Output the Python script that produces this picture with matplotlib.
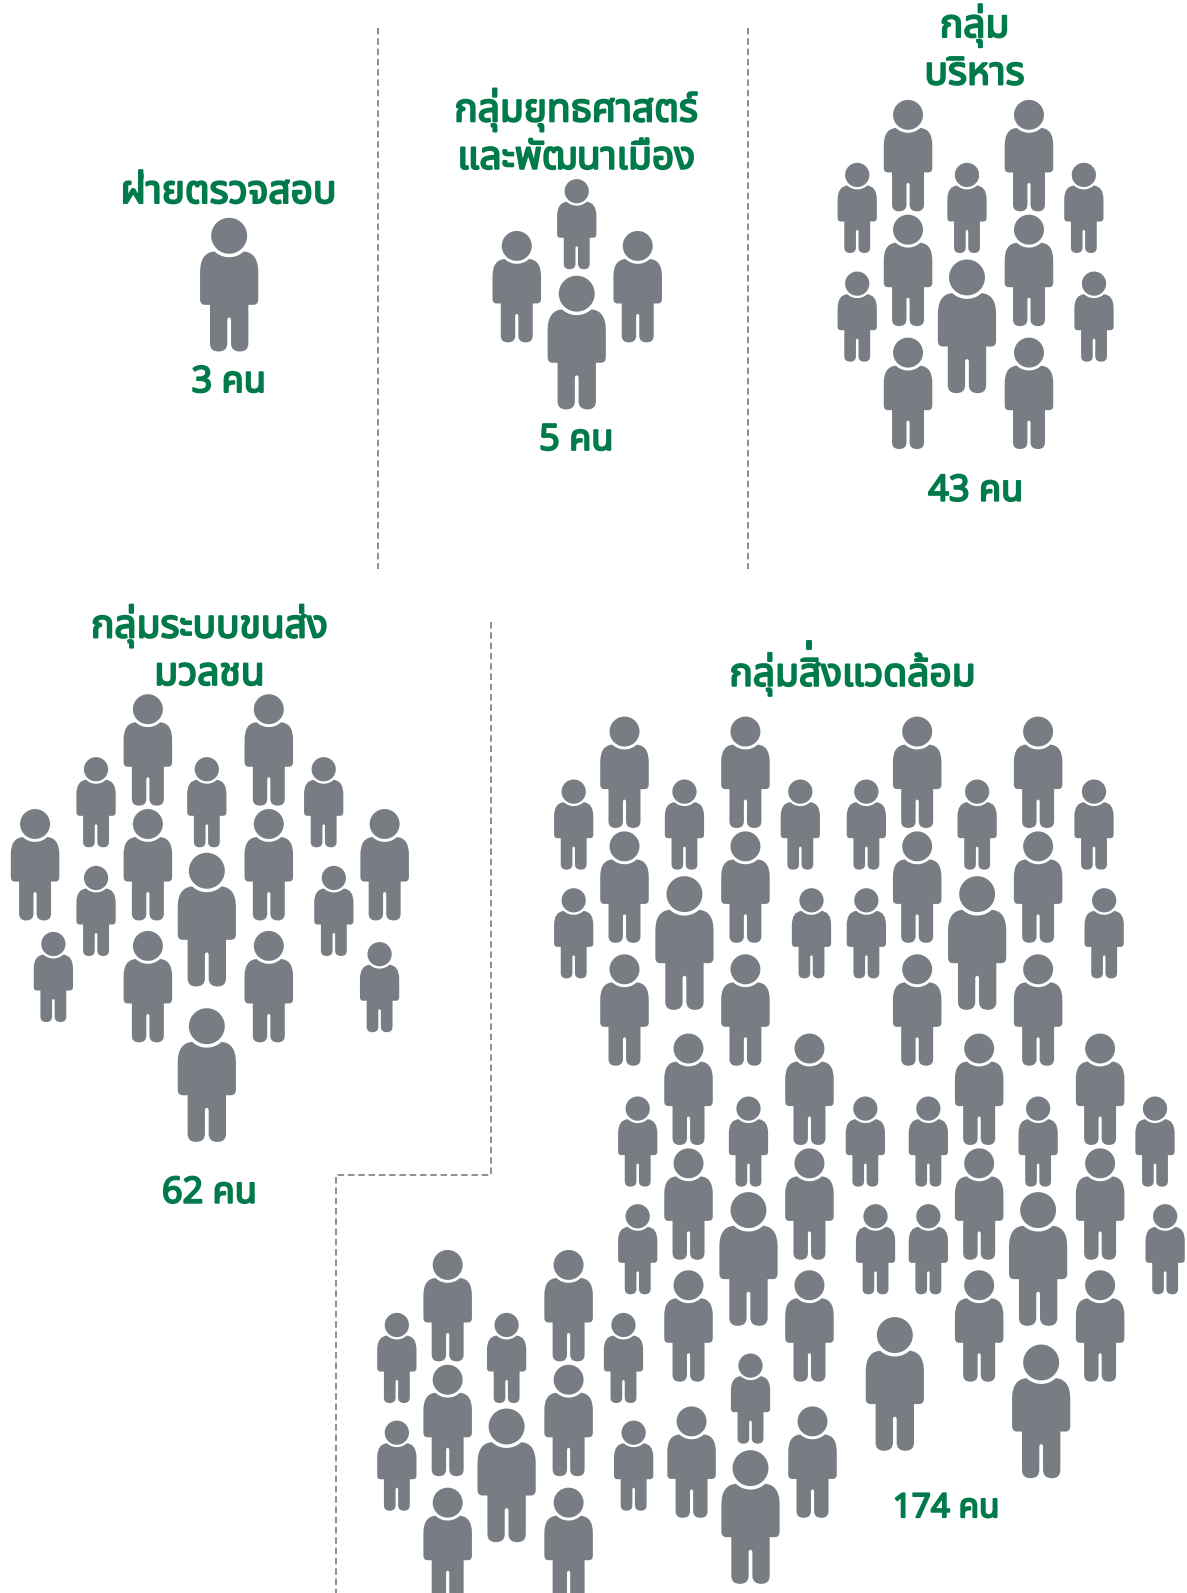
# คนในแต่ละกลุ่ม - pictogram
import matplotlib
matplotlib.use('Agg')
import numpy as np
import matplotlib.pyplot as plt
import matplotlib.patheffects as pe
from matplotlib.path import Path
from matplotlib.patches import PathPatch
from matplotlib.transforms import Affine2D

GREEN = '#007a4b'
GREY = '#787c83'
plt.rcParams['font.family'] = ['Noto Sans Thai', 'DejaVu Sans']

# centre x, head top y in the 1168x1568 view
large = [(226, 214), (568, 271), (952, 255), (204, 839), (204, 992),
         (674, 862), (962, 862), (737, 1173), (1022, 1173),
         (499, 1386), (739, 1427), (881, 1296), (1025, 1323)]
medium = [(509, 227), (628, 227),
          (894, 98), (1013, 98), (894, 211), (1013, 211), (894, 332), (1013, 332),
          (146, 683), (265, 683), (35, 796), (146, 796), (265, 796), (379, 796),
          (146, 916), (265, 916),
          (615, 705), (734, 705), (903, 705), (1022, 705),
          (615, 818), (734, 818), (903, 818), (1022, 818),
          (615, 939), (734, 939), (903, 939), (1022, 939),
          (678, 1017), (797, 1017), (964, 1017), (1083, 1017),
          (678, 1130), (797, 1130), (964, 1130), (1083, 1130),
          (678, 1250), (797, 1250), (964, 1250), (1083, 1250),
          (441, 1230), (560, 1230), (441, 1343), (560, 1343), (441, 1464), (560, 1464),
          (681, 1384), (800, 1384)]
small = [(568, 176),
         (844, 160), (952, 160), (1067, 160), (844, 267), (1077, 267),
         (95, 745), (204, 745), (319, 745), (95, 852), (329, 852), (53, 917), (374, 927),
         (565, 767), (674, 767), (788, 767), (853, 767), (962, 767), (1077, 767),
         (565, 874), (799, 874), (853, 874), (1087, 874),
         (628, 1079), (737, 1079), (852, 1079), (914, 1079), (1022, 1079), (1137, 1079),
         (628, 1185), (862, 1185), (914, 1185), (1147, 1185),
         (391, 1292), (499, 1292), (614, 1292), (391, 1398), (624, 1398), (739, 1332)]

labels = ['ฝ่ายตรวจสอบ', 'กลุ่มยุทธศาสตร์\nและพัฒนาเมือง', 'กลุ่ม\nบริหาร', 'กลุ่มระบบขนส่ง\nมวลชน']
label_x = [225, 567, 959, 206]
label_y = [190, 131, 48, 639]
# ไม้เอกบนสระอิ ต้องแยกวาง ไม่มี shaping ใน matplotlib
last_label = ['กลุ่มสิ', '่\u00a0', 'งแวดล้อม']
counts = ['3 คน', '5 คน', '43 คน', '62 คน', '174 คน']
count_x = [225, 567, 960, 206, 931]
count_y = [377, 434, 484, 1175, 1485]
count_size = [26, 26, 26, 26, 24]

dash_lines = [([372, 372], [28, 560]), ([736, 736], [28, 560]),
              ([483, 483, 331, 331], [612, 1157, 1157, 1568])]


def person_path():
    # unit figure: head top at y=0, feet at y=1, y goes down
    t = np.linspace(0, 2 * np.pi, 60)
    head = np.column_stack([0.134 * np.cos(t), 0.137 + 0.134 * np.sin(t)])
    a = np.linspace(np.radians(133), np.radians(47), 20)
    neck = np.column_stack([0.16 * np.cos(a), 0.137 + 0.16 * np.sin(a)])
    w, lw = 0.217, 0.143
    right = [(Path.CURVE3, (w, 0.262)), (Path.CURVE3, (w, 0.41)),
             (Path.LINETO, (w, 0.61)), (Path.CURVE3, (w, 0.652)), (Path.CURVE3, (0.18, 0.652)),
             (Path.LINETO, (lw, 0.652)), (Path.LINETO, (lw, 0.94)),
             (Path.CURVE3, (lw, 1.0)), (Path.CURVE3, (0.08, 1.0)),
             (Path.CURVE3, (0.014, 1.0)), (Path.CURVE3, (0.014, 0.94)),
             (Path.LINETO, (0.014, 0.765)), (Path.CURVE3, (0.014, 0.746)), (Path.CURVE3, (0.0, 0.746))]
    verts = list(map(tuple, neck))
    codes = [Path.MOVETO] + [Path.LINETO] * (len(neck) - 1)
    for c, v in right:
        codes.append(c)
        verts.append(v)
    # mirror: walk the same outline backwards
    seq = [tuple(neck[-1])] + [p[1] for p in right]
    kinds = [Path.LINETO] + [p[0] for p in right]
    for j in range(len(seq) - 1, 0, -1):
        codes.append(kinds[j])
        verts.append((-seq[j - 1][0], seq[j - 1][1]))
    verts.append(verts[0])
    codes.append(Path.CLOSEPOLY)
    hc = [Path.MOVETO] + [Path.LINETO] * (len(head) - 2) + [Path.CLOSEPOLY]
    return Path(np.vstack([np.array(verts), head]), codes + hc)


fig = plt.figure(figsize=(11.87, 15.93), dpi=100)
ax = fig.add_axes([0, 0, 1, 1])
ax.set_xlim(0, 1168)
ax.set_ylim(1568, 0)
ax.axis('off')

shape = person_path()
for pts, h in [(large, 132), (medium, 110), (small, 89)]:
    for x, y in pts:
        tr = Affine2D().scale(h).translate(x - 0.5, y) + ax.transData
        ax.add_patch(PathPatch(shape, transform=tr, facecolor=GREY, edgecolor='none'))

for xs, ys in dash_lines:
    ax.plot(xs, ys, color='#84868a', lw=1.3, dashes=(3.6, 2.1))

bold = [pe.withStroke(linewidth=1.4, foreground=GREEN)]
style = dict(color=GREEN, path_effects=bold)
for t, x, y in zip(labels, label_x, label_y):
    ax.text(x, y, t, ha='center', va='center', linespacing=1.29, fontsize=28, **style)
for t, x, y, s in zip(counts, count_x, count_y, count_size):
    ax.text(x, y, t, ha='center', va='center', fontsize=s, **style)

ax.text(808, 675, last_label[0], ha='right', va='baseline', fontsize=28, **style)
ax.text(801, 663, last_label[1], ha='left', va='baseline', fontsize=28, **style)
ax.text(808, 675, last_label[2], ha='left', va='baseline', fontsize=28, **style)

fig.savefig('out.png', dpi=100)
